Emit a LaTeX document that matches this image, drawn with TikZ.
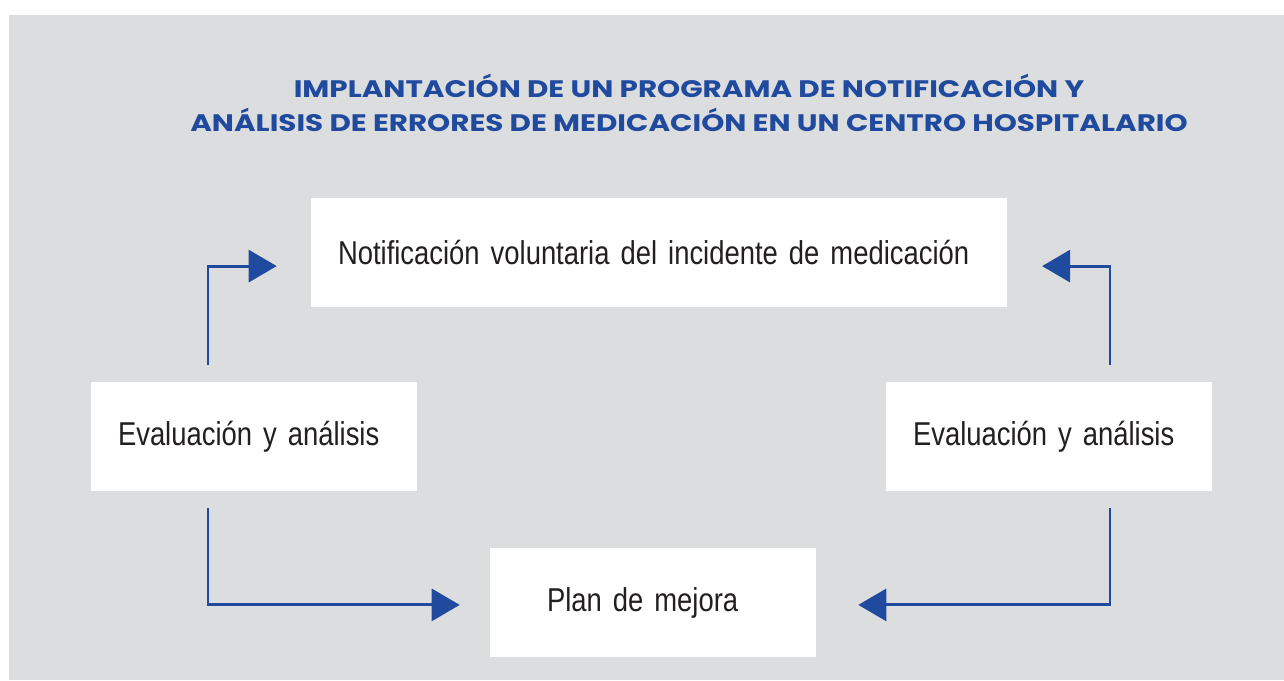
\documentclass[tikz,border=0pt]{standalone}
\usepackage{fontspec}
\setmainfont{Liberation Sans}[FakeStretch=0.83]
\newfontfamily\titlefont{Poppins}[FakeStretch=1.23]
\usetikzlibrary{arrows.meta}
\definecolor{bggray}{RGB}{220,221,223}
\definecolor{flowblue}{RGB}{32,74,158}
\definecolor{textgray}{RGB}{35,31,32}
\begin{document}
\begin{tikzpicture}[
  box/.style={fill=white, align=left, minimum height=2.725cm, inner ysep=0pt,
    font=\fontsize{23.5}{28}\selectfont, text=textgray},
  flow/.style={flowblue, line width=2.1pt, -{Triangle[length=0.7cm,width=0.8cm]},
    shorten <=0.42cm}
]
\useasboundingbox (0,0) rectangle (32.1,-17);
\fill [bggray] (0.225,-0.375) rectangle (32.1,-17);
\node [align=center, text=flowblue, font=\titlefont\bfseries\fontsize{17}{24.2}\selectfont] (title) at (17.225,-2.58) {IMPLANTACIÓN DE UN PROGRAMA DE NOTIFICACIÓN Y\\ANÁLISIS DE ERRORES DE MEDICACIÓN EN UN CENTRO HOSPITALARIO};
\node [box, text width=16.05cm, inner xsep=0.675cm] (notif) at (16.475,-6.3125) {Notificación voluntaria del incidente de medicación};
\node [box, text width=6.8cm, inner xsep=0.675cm] (evalL) at (6.35,-10.9125) {Evaluación y análisis};
\node [box, text width=6.8cm, inner xsep=0.675cm] (evalR) at (26.225,-10.9125) {Evaluación y análisis};
\node [box, text width=5.3cm, inner xsep=1.425cm] (plan) at (16.325,-15.0625) {Plan de mejora};
\draw [flow, shorten >=0.85cm] ([xshift=-1.15cm]evalL.north) |- ([yshift=-0.34cm]notif.west);
\draw [flow, shorten >=0.87cm] ([xshift=1.525cm]evalR.north) |- ([yshift=-0.34cm]notif.east);
\draw [flow, shorten >=0.75cm] ([xshift=-1.15cm]evalL.south) |- ([yshift=-0.06cm]plan.west);
\draw [flow, shorten >=1.05cm] ([xshift=1.525cm]evalR.south) |- ([yshift=-0.06cm]plan.east);
\end{tikzpicture}
\end{document}
